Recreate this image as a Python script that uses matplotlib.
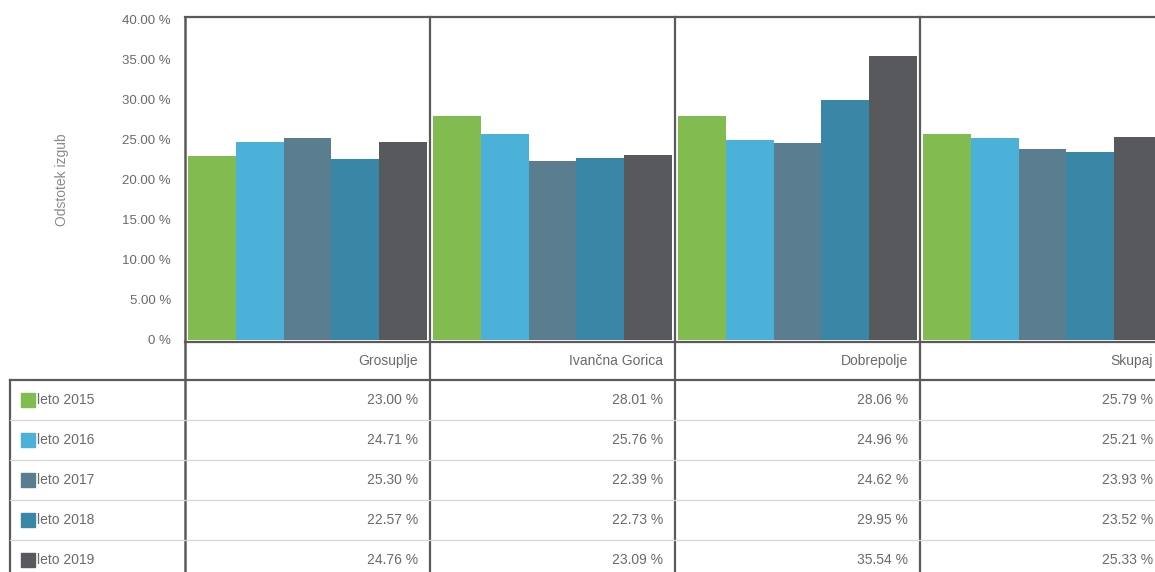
import matplotlib
matplotlib.use("Agg")
import matplotlib.pyplot as plt
from matplotlib.patches import Rectangle

categories = ["Grosuplje", "Ivančna Gorica", "Dobrepolje", "Skupaj"]
series_names = ["leto 2015", "leto 2016", "leto 2017", "leto 2018", "leto 2019"]
v2015 = [23.00, 28.01, 28.06, 25.79]
v2016 = [24.71, 25.76, 24.96, 25.21]
v2017 = [25.30, 22.39, 24.62, 23.93]
v2018 = [22.57, 22.73, 29.95, 23.52]
v2019 = [24.76, 23.09, 35.54, 25.33]
series_values = [v2015, v2016, v2017, v2018, v2019]
y_ticks = [0, 5, 10, 15, 20, 25, 30, 35, 40]
y_label = "Odstotek izgub"

colors = ["#82bb4f", "#4bb1d8", "#5b7d90", "#3a86a6", "#57595c"]
text_col = "#6a6a6a"
line_col = "#5a5a5a"

W, H = 1155, 572
fig = plt.figure(figsize=(W / 100, H / 100), dpi=100)
plt.rcParams['font.family'] = ['Liberation Sans', 'DejaVu Sans']

def fx(px):
    return px / W

def fy(py):
    return 1 - py / H

# bar axes: x 185..1165 px, y 20..340 px
left_px, right_px = 185, 185 + 245 * len(categories)
top_px, bot_px = 20, 340
ax = fig.add_axes([fx(left_px), fy(bot_px), fx(right_px - left_px), (bot_px - top_px) / H])
ax.set_xlim(0, len(categories))
ax.set_ylim(0, 40)
n = len(series_values)
bw = 0.975 / n
for j, vals in enumerate(series_values):
    xs = [i + 0.0125 + j * bw for i in range(len(categories))]
    ax.bar(xs, vals, width=bw, align='edge', color=colors[j], edgecolor='none', zorder=2)
ax.set_yticks(y_ticks)
ax.set_yticklabels([("0 %" if t == 0 else f"{t:.2f} %") for t in y_ticks],
                   fontsize=9.5, color=text_col)
ax.tick_params(axis='y', length=0, pad=10)
ax.set_xticks([])
for s in ax.spines.values():
    s.set_visible(False)
ax.patch.set_alpha(0)

# overlay for frame and table (pixel coords)
ov = fig.add_axes([0, 0, 1, 1])
ov.set_xlim(0, W)
ov.set_ylim(H, 0)
ov.axis('off')
ov.patch.set_alpha(0)

gw = 245
ov.plot([left_px, W], [17, 17], color=line_col, lw=1.6)
ov.plot([left_px, W], [342, 342], color=line_col, lw=1.6)
ov.plot([left_px, left_px], [17, H], color=line_col, lw=1.8)
for i in range(1, len(categories)):
    x = left_px + i * gw
    ov.plot([x, x], [17, H], color=line_col, lw=1.6)
ov.plot([10, W], [380, 380], color=line_col, lw=1.6)
ov.plot([10, 10], [380, H], color=line_col, lw=1.6)
row_h = 40
for r in range(1, n):
    y = 380 + r * row_h
    ov.plot([10, W], [y, y], color="#d8d8d8", lw=0.9)

ov.text(62, 180, y_label, rotation=90, ha='center', va='center', fontsize=10, color="#8a8a8a")

for i, c in enumerate(categories):
    ov.text(left_px + (i + 1) * gw - 12, 361, c, ha='right', va='center',
            fontsize=10, color=text_col)

for j, vals in enumerate(series_values):
    yc = 400 + j * row_h
    ov.add_patch(Rectangle((21, yc - 7), 14, 14, color=colors[j]))
    ov.text(37, yc, series_names[j], ha='left', va='center', fontsize=10, color=text_col)
    for i, v in enumerate(vals):
        ov.text(left_px + (i + 1) * gw - 12, yc, f"{v:.2f} %", ha='right', va='center',
                fontsize=10, color=text_col)

fig.savefig("out.png", dpi=100)
